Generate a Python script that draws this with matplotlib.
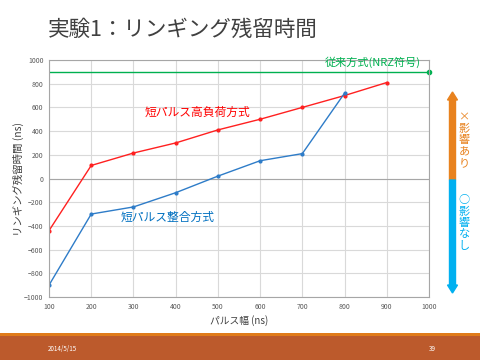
import matplotlib.pyplot as plt
from matplotlib.patches import FancyArrow, Rectangle

plt.rcParams['font.family'] = ['Noto Sans CJK JP', 'DejaVu Sans']

# data
pulse_width = [100, 200, 300, 400, 500, 600, 700, 800, 900]
high_load = [-440, 110, 215, 300, 410, 500, 600, 700, 810]
matched_x = [100, 200, 300, 400, 500, 600, 700, 800]
matched = [-900, -300, -240, -120, 20, 150, 210, 720]
nrz_x = [100, 1000]
nrz = [900, 900]

x_ticks = list(range(100, 1001, 100))
y_ticks = list(range(-1000, 1001, 200))

fig = plt.figure(figsize=(4.8, 3.6), dpi=100)
fig.patch.set_facecolor('white')

# slide title
fig.text(48 / 480, 1 - 30 / 360, '実験1：リンギング残留時間', fontsize=15.5,
         color='#404040', va='center', ha='left')

# footer band
fig.patches.append(Rectangle((0, 0), 1, 25 / 360, transform=fig.transFigure,
                             facecolor='#BC5A2C', edgecolor='none'))
fig.patches.append(Rectangle((0, 24 / 360), 1, 3 / 360, transform=fig.transFigure,
                             facecolor='#E07B1A', edgecolor='none'))
fig.text(48 / 480, 1 - 349 / 360, '2014/5/15', fontsize=4.5, color='white',
         va='center', ha='left')
fig.text(432 / 480, 1 - 349 / 360, '39', fontsize=4.5, color='white',
         va='center', ha='center')

ax = fig.add_axes([49 / 480, 63 / 360, 380 / 480, 237 / 360])
ax.set_xlim(100, 1000)
ax.set_ylim(-1000, 1000)
ax.set_xticks(x_ticks)
ax.set_yticks(y_ticks)
ax.tick_params(labelsize=5, colors='#595959', length=0, pad=4)
ax.grid(True, color='#D9D9D9', linewidth=0.8)
ax.axhline(0, color='#A6A6A6', linewidth=0.8)
for s in ax.spines.values():
    s.set_color('#A6A6A6')

ax.plot(pulse_width, high_load, color='#FF2020', linewidth=1,
        marker='o', markersize=2)
ax.plot(matched_x, matched, color='#2E7CC8', linewidth=1,
        marker='o', markersize=2)
ax.plot(nrz_x, nrz, color='#00B050', linewidth=1)
ax.plot([nrz_x[-1]], [nrz[-1]], 'o', color='#00B050', markersize=3,
        clip_on=False)

ax.text(145 / 480, 1 - 112 / 360, '短パルス高負荷方式', transform=fig.transFigure,
        color='#FF0000', fontsize=8.5, va='center', ha='left')
ax.text(121 / 480, 1 - 217 / 360, '短パルス整合方式', transform=fig.transFigure,
        color='#0070C0', fontsize=8.5, va='center', ha='left')
ax.text(325 / 480, 1 - 62 / 360, '従来方式(NRZ符号)', transform=fig.transFigure,
        color='#00B050', fontsize=8, va='center', ha='left')

ax.set_xlabel('パルス幅 (ns)', fontsize=7, color='#404040', labelpad=3)
ax.set_ylabel('リンギング残留時間 (ns)', fontsize=7.5, color='#404040', labelpad=0)

# side arrows
ax_x = 452.5 / 480
fig.patches.append(FancyArrow(ax_x, 1 - 180 / 360, 0, 88 / 360,
                              width=6 / 480, head_width=10 / 480,
                              head_length=8 / 360, length_includes_head=True,
                              transform=fig.transFigure, color='#E8821E'))
fig.patches.append(FancyArrow(ax_x, 1 - 180 / 360, 0, -113 / 360,
                              width=6 / 480, head_width=10 / 480,
                              head_length=8 / 360, length_includes_head=True,
                              transform=fig.transFigure, color='#00B0F0'))

# vertical (tategaki) labels, one character per step
for i, ch in enumerate('×影響あり'):
    fig.text(464 / 480, 1 - (117 + 11.5 * i) / 360, ch, fontsize=8,
             color='#E8821E', ha='center', va='center')
for i, ch in enumerate('○影響なし'):
    fig.text(464 / 480, 1 - (200 + 11.5 * i) / 360, ch, fontsize=8,
             color='#00B0F0', ha='center', va='center')

fig.savefig('out.png', dpi=100)
